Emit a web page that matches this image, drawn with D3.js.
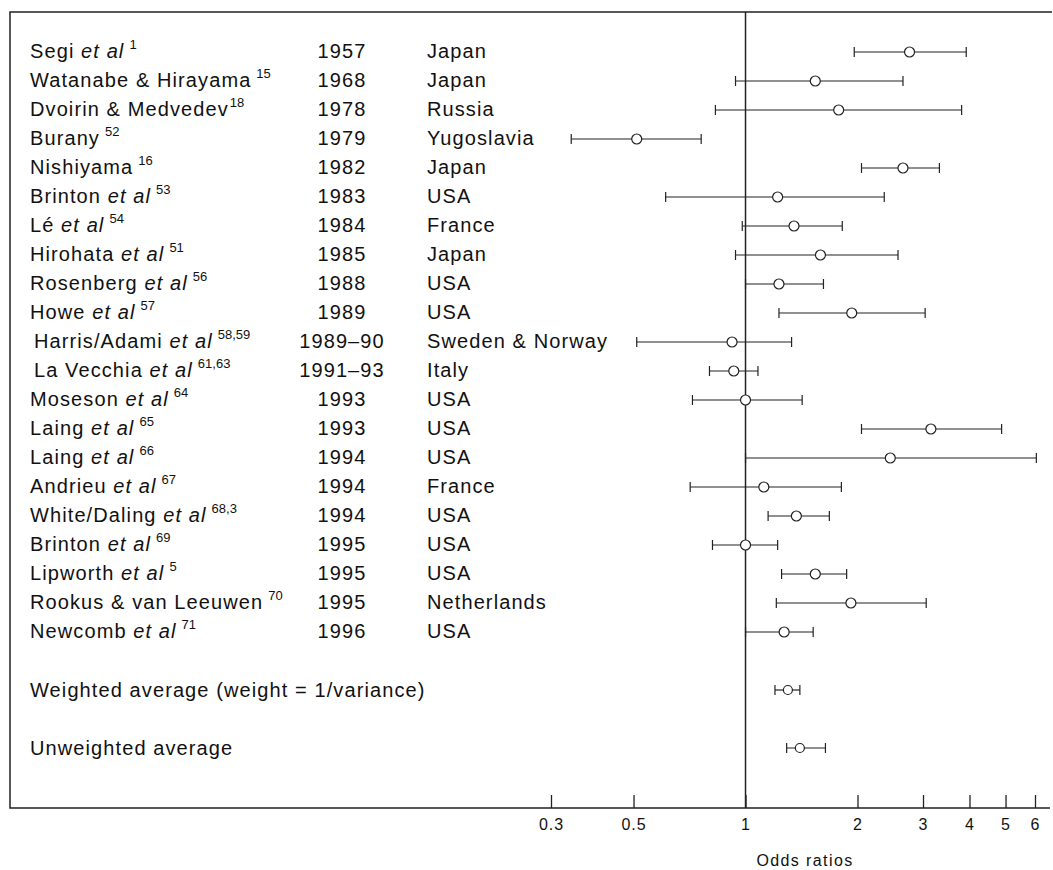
<!DOCTYPE html>
<html>
<head>
<meta charset="utf-8">
<title>Odds ratios</title>
<script src="https://cdn.jsdelivr.net/npm/d3@7/dist/d3.min.js"></script>
<style>
	body, html {
		margin: 0;
		background: #fff;
		overflow: hidden;
	}
	text {
		font-family: "Liberation Sans", Arial, sans-serif;
		fill: #111;
	}
	.lbl {
		font-size: 20px;
		letter-spacing: 1.1px;
	}
	.frame, .ref {
		stroke: #222;
		stroke-width: 1.5;
		fill: none;
	}
	.ci {
		stroke: #222;
		stroke-width: 1.2;
		fill: none;
	}
	.pt {
		fill: #fff;
		stroke: #222;
		stroke-width: 1.2;
	}
	.axis text {
		font-size: 16px;
		letter-spacing: 1px;
	}
	.axis line {
		stroke: #222;
		stroke-width: 1.3;
	}
</style>
</head>
<body>
<div id="chart"></div>
<script>
	// studies, one per row
	var authors = ["Segi", "Watanabe & Hirayama", "Dvoirin & Medvedev", "Burany", "Nishiyama", "Brinton", "Lé",
		"Hirohata", "Rosenberg", "Howe", "Harris/Adami", "La Vecchia", "Moseson", "Laing", "Laing", "Andrieu",
		"White/Daling", "Brinton", "Lipworth", "Rookus & van Leeuwen", "Newcomb"];
	var etal = [1, 0, 0, 0, 0, 1, 1, 1, 1, 1, 1, 1, 1, 1, 1, 1, 1, 1, 1, 0, 1];
	var refs = ["1", "15", "18", "52", "16", "53", "54", "51", "56", "57", "58,59", "61,63", "64", "65", "66", "67",
		"68,3", "69", "5", "70", "71"];
	var years = ["1957", "1968", "1978", "1979", "1982", "1983", "1984", "1985", "1988", "1989", "1989–90", "1991–93",
		"1993", "1993", "1994", "1994", "1994", "1995", "1995", "1995", "1996"];
	var countries = ["Japan", "Japan", "Russia", "Yugoslavia", "Japan", "USA", "France", "Japan", "USA", "USA",
		"Sweden & Norway", "Italy", "USA", "USA", "USA", "France", "USA", "USA", "USA", "Netherlands", "USA"];

	// odds ratio and 95% limits
	var or = [2.76, 1.54, 1.78, 0.51, 2.65, 1.22, 1.35, 1.59, 1.23, 1.93, 0.92, 0.93, 1.0, 3.15, 2.45, 1.12, 1.37,
		1.0, 1.54, 1.92, 1.27];
	var lower = [1.96, 0.94, 0.83, 0.34, 2.05, 0.61, 0.98, 0.94, 1.0, 1.23, 0.51, 0.80, 0.72, 2.05, 1.0, 0.71, 1.15,
		0.815, 1.25, 1.21, 1.0];
	var upper = [3.92, 2.65, 3.81, 0.76, 3.32, 2.36, 1.82, 2.57, 1.62, 3.04, 1.33, 1.08, 1.42, 4.88, 6.05, 1.81, 1.68,
		1.22, 1.87, 3.06, 1.52];

	// summary rows
	var avgLabels = ["Weighted average (weight = 1/variance)", "Unweighted average"];
	var avgOr = [1.30, 1.40];
	var avgLower = [1.20, 1.29];
	var avgUpper = [1.40, 1.64];
	var avgRow = [22, 24];

	var tickVals = [0.3, 0.5, 1, 2, 3, 4, 5, 6];

	var w = 1053, h = 870;
	var frameTop = 12, frameBottom = 808, frameLeft = 10;

	var svg = d3.select("#chart").append("svg")
		.attr("width", w)
		.attr("height", h);

	var x = d3.scaleLog()
		.domain([0.3, 6])
		.range([551, 1035]);

	var y = d3.scaleLinear()
		.domain([0, 24])
		.range([52, 748]);

	// frame: left, top and bottom
	svg.append("path")
		.attr("class", "frame")
		.attr("d", "M" + (w - 1) + "," + frameTop + "H" + frameLeft + "V" + frameBottom + "H" + (w - 3));

	// line of no effect
	svg.append("line")
		.attr("class", "ref")
		.attr("x1", x(1)).attr("x2", x(1))
		.attr("y1", frameTop).attr("y2", frameBottom);

	// axis, ticks pointing up
	var axis = d3.axisBottom(x)
		.tickValues(tickVals)
		.tickFormat(function (d) { return d; })
		.tickSizeInner(-13)
		.tickSizeOuter(0)
		.tickPadding(11);

	var ax = svg.append("g")
		.attr("class", "axis")
		.attr("transform", "translate(0," + frameBottom + ")")
		.call(axis);
	ax.select(".domain").remove();
	ax.selectAll("text").attr("font-family", null).attr("font-size", null).attr("fill", null);

	svg.append("text")
		.attr("x", 805)
		.attr("y", 866)
		.attr("text-anchor", "middle")
		.style("font-size", "16px")
		.style("letter-spacing", "1.4px")
		.text("Odds ratios");

	// study labels
	var rows = authors.map(function (a, i) {
		return { author: a, etal: etal[i], ref: refs[i], year: years[i], country: countries[i],
			or: or[i], lo: lower[i], hi: upper[i], row: i };
	});

	var lab = svg.append("g").selectAll("g").data(rows).enter().append("g");

	var nm = lab.append("text")
		.attr("class", "lbl")
		.attr("x", function (d) { return (d.row == 10 || d.row == 11) ? 34 : 30; })
		.attr("y", function (d) { return y(d.row) + 6; });
	nm.append("tspan").text(function (d) { return d.etal ? d.author + " " : d.author; });
	nm.filter(function (d) { return d.etal; })
		.append("tspan").style("font-style", "italic").text("et al");
	nm.append("tspan")
		.attr("dx", function (d) { return d.row == 2 ? 1 : 5; })
		.attr("dy", -9)
		.style("font-size", "13px")
		.style("letter-spacing", "0px")
		.text(function (d) { return d.ref; });

	lab.append("text")
		.attr("class", "lbl")
		.attr("x", 342)
		.attr("y", function (d) { return y(d.row) + 6; })
		.attr("text-anchor", "middle")
		.text(function (d) { return d.year; });

	lab.append("text")
		.attr("class", "lbl")
		.attr("x", 427)
		.attr("y", function (d) { return y(d.row) + 6; })
		.text(function (d) { return d.country; });

	var avgs = avgLabels.map(function (l, i) {
		return { label: l, or: avgOr[i], lo: avgLower[i], hi: avgUpper[i], row: avgRow[i] };
	});

	svg.append("g").selectAll("text").data(avgs).enter().append("text")
		.attr("class", "lbl")
		.attr("x", 30)
		.attr("y", function (d) { return y(d.row) + 7; })
		.text(function (d) { return d.label; });

	// confidence intervals
	var all = rows.concat(avgs);
	var ci = svg.append("g").selectAll("g").data(all).enter().append("g");

	ci.append("line")
		.attr("class", "ci")
		.attr("x1", function (d) { return x(d.lo); })
		.attr("x2", function (d) { return x(d.hi); })
		.attr("y1", function (d) { return y(d.row); })
		.attr("y2", function (d) { return y(d.row); });

	["lo", "hi"].forEach(function (k) {
		ci.append("line")
			.attr("class", "ci")
			.attr("x1", function (d) { return x(d[k]); })
			.attr("x2", function (d) { return x(d[k]); })
			.attr("y1", function (d) { return y(d.row) - 5; })
			.attr("y2", function (d) { return y(d.row) + 5; });
	});

	ci.append("circle")
		.attr("class", "pt")
		.attr("cx", function (d) { return x(d.or); })
		.attr("cy", function (d) { return y(d.row); })
		.attr("r", function (d) { return d.row > 20 ? 4.5 : 5; });
</script>
</body>
</html>
